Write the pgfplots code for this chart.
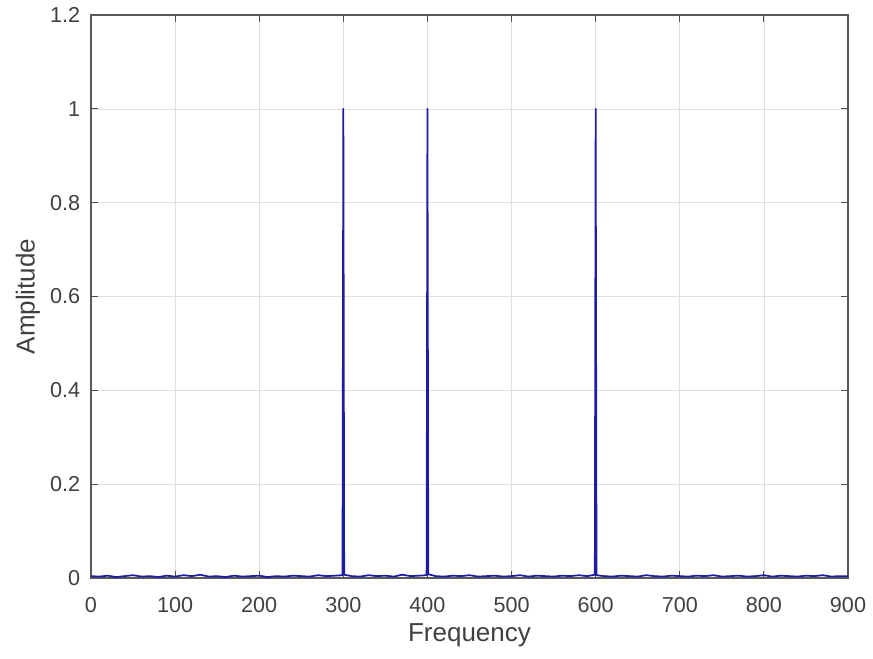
\documentclass[border=0pt]{standalone}
\usepackage{fontspec}
\setmainfont{Liberation Sans}
\usepackage{pgfplots}
\pgfplotsset{compat=1.18}
\definecolor{sigblue}{RGB}{28,28,165}
\definecolor{txtgray}{RGB}{64,64,64}
\begin{document}
\begin{tikzpicture}
\useasboundingbox (-68.25pt,-60pt) rectangle (586.5pt,433.5pt);
\begin{axis}[
    scale only axis,
    width=567.75pt, height=422.25pt,
    at={(0,0)}, anchor=south west,
    xmin=0, xmax=900, ymin=0, ymax=1.2,
    xtick={0,100,...,900},
    ytick={0,0.2,0.4,0.6,0.8,1,1.2},
    yticklabels={0,0.2,0.4,0.6,0.8,1,1.2},
    tick align=inside, tick pos=both,
    major tick length=5pt,
    every tick/.style={black!70, line width=0.6pt},
    axis line style={black!65, line width=0.8pt},
    grid=major,
    grid style={black!12, line width=0.5pt},
    /pgf/number format/assume math mode=true,
    ticklabel style={font=\fontsize{16.2}{19}\selectfont, text=txtgray, inner sep=0pt},
    xticklabel style={yshift=-14.5pt},
    yticklabel style={xshift=-8pt},
    xlabel={Frequency}, ylabel={Amplitude},
    label style={font=\fontsize{19.5}{23}\selectfont, text=txtgray, inner sep=0pt},
    xlabel style={at={(axis description cs:0.5,-0.08)}, anchor=north},
    ylabel style={at={(axis description cs:-0.067,0.5)}, anchor=south},
]
\addplot[sigblue, line width=1.3pt, line join=round] table {
x y
0 0.004
10 0.003
20 0.005
30 0.002
40 0.004
50 0.006
60 0.003
70 0.004
80 0.002
90 0.005
100 0.003
110 0.006
120 0.004
130 0.007
140 0.003
150 0.004
160 0.002
170 0.005
180 0.003
190 0.004
200 0.005
210 0.002
220 0.004
230 0.003
240 0.005
250 0.004
260 0.003
270 0.006
280 0.004
290 0.005
299 0.006
300 1.000
301 0.007
310 0.004
320 0.003
330 0.006
340 0.004
350 0.005
360 0.003
370 0.007
380 0.004
390 0.005
399 0.006
400 1.000
401 0.008
410 0.004
420 0.003
430 0.005
440 0.004
450 0.006
460 0.003
470 0.004
480 0.005
490 0.003
500 0.004
510 0.006
520 0.003
530 0.005
540 0.004
550 0.003
560 0.005
570 0.004
580 0.006
590 0.004
599 0.007
600 1.000
601 0.006
610 0.004
620 0.003
630 0.005
640 0.004
650 0.003
660 0.006
670 0.004
680 0.003
690 0.005
700 0.004
710 0.003
720 0.005
730 0.004
740 0.006
750 0.003
760 0.004
770 0.005
780 0.003
790 0.004
800 0.006
810 0.003
820 0.005
830 0.004
840 0.003
850 0.005
860 0.004
870 0.006
880 0.003
890 0.004
900 0.004
};
\end{axis}
\end{tikzpicture}
\end{document}
